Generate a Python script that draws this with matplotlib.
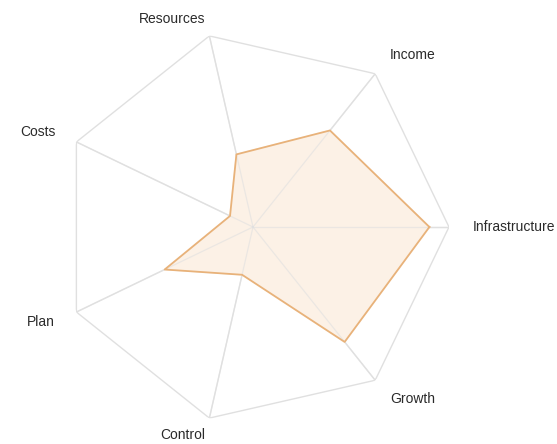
import numpy as np
import matplotlib.pyplot as plt

plt.rcParams['font.family'] = ['Liberation Sans', 'DejaVu Sans']

categories = ['Infrastructure', 'Income', 'Resources', 'Costs', 'Plan', 'Control', 'Growth']
values = [90, 63, 38, 13, 50, 25, 75]
max_value = 100

n = len(categories)
angles = np.linspace(0, 2 * np.pi, n, endpoint=False)

fig = plt.figure(figsize=(5.57, 4.44), dpi=100)
ax = fig.add_axes([0.1023, 0.0473, 0.7038, 0.8829], projection='polar')
ax.set_ylim(0, max_value)
ax.grid(False)
ax.set_xticks([])
ax.set_yticks([])
ax.spines['polar'].set_visible(False)

grid_color = '#e0e0e0'
# outer polygon + spokes
ring = np.append(angles, angles[0])
ax.plot(ring, [max_value] * len(ring), color=grid_color, lw=1, zorder=1)
for a in angles:
    ax.plot([a, a], [0, max_value], color=grid_color, lw=1, zorder=1)

# data polygon
vals = values + values[:1]
ax.fill(ring, vals, color='#fcf1e6', zorder=2)
ax.plot(ring, vals, color='#e8b27a', lw=1.3, zorder=3)
# spokes show through the fill
for a in angles:
    ax.plot([a, a], [0, max_value], color=grid_color, lw=0.9, alpha=0.6, zorder=2.5)

# labels
for a, lab in zip(angles, categories):
    c = np.cos(a)
    ha = 'left' if c > 0 else 'right'
    r = 1.09 if abs(np.sin(a)) > 0.95 else 1.12
    ax.text(a, max_value * r, lab, ha=ha, va='center', fontsize=10, color='#2a2a2a')

fig.savefig('out.png', dpi=100)
